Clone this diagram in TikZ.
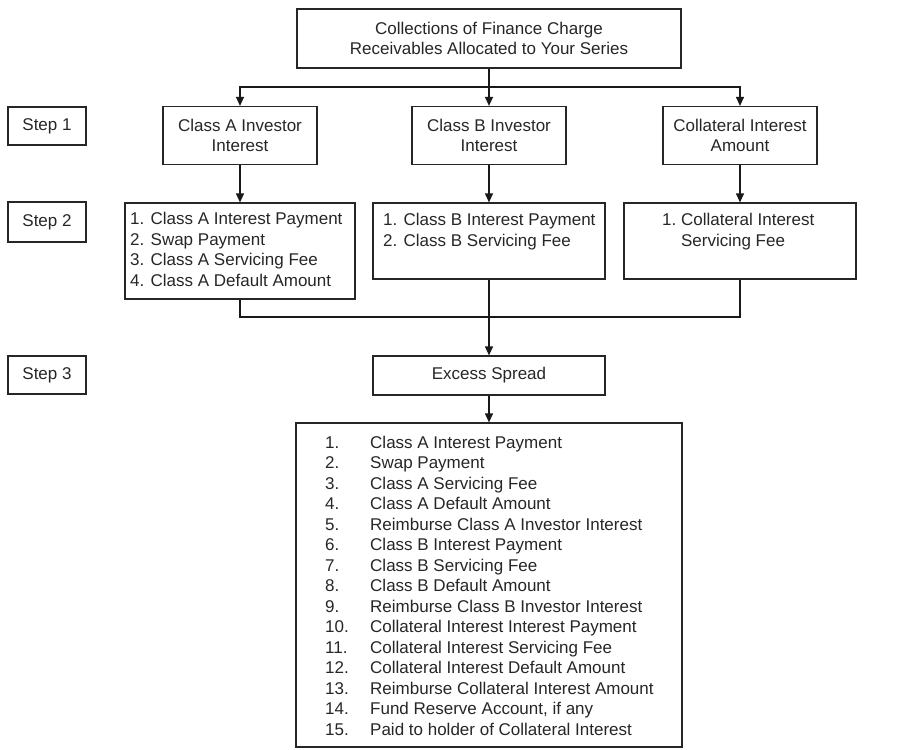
\documentclass[tikz,border=0pt]{standalone}
\usepackage{fontspec}
\setmainfont{Liberation Sans}
\usetikzlibrary{arrows.meta}
\begin{document}
\begin{tikzpicture}[x=1bp,y=-1bp,
  every node/.style={font=\fontsize{17bp}{20.5bp}\selectfont, text=black!85},
  box/.style={draw=black!85, line width=1.2bp, inner sep=0pt},
  txt/.style={anchor=north west, inner sep=0pt},
  line/.style={draw=black!90, line width=1.2bp},
  arr/.style={line, -{Triangle[length=9bp,width=8bp]}}
]
\useasboundingbox (0,0) rectangle (923,750);

% source of funds
\node[box, minimum width=384bp, minimum height=59bp, align=center] (top) at (489,38.5)
  {Collections of Finance Charge\\Receivables Allocated to Your Series};

% step labels
\node[box, minimum width=78bp, minimum height=38bp] (s1) at (47,126) {Step 1};
\node[box, minimum width=78bp, minimum height=40bp] (s2) at (47,222) {Step 2};
\node[box, minimum width=78bp, minimum height=38bp] (s3) at (47,375) {Step 3};

% step 1: allocation
\node[box, minimum width=154bp, minimum height=58bp, align=center] (a1) at (240,135.5) {Class A Investor\\Interest};
\node[box, minimum width=154bp, minimum height=58bp, align=center] (b1) at (489,135.5) {Class B Investor\\Interest};
\node[box, minimum width=154bp, minimum height=58bp, align=center] (c1) at (740,135.5) {Collateral Interest\\Amount};

% step 2: payments per class
\node[box, minimum width=230bp, minimum height=96bp] (a2) at (240,251) {};
\node[txt] (a2t) at (130,210) {\begin{tabular}{@{}l@{}}1. Class A Interest Payment\\2. Swap Payment\\3. Class A Servicing Fee\\4. Class A Default Amount\end{tabular}};

\node[box, minimum width=232bp, minimum height=76bp] (b2) at (489,241) {};
\node[txt] (b2t) at (383,211) {\begin{tabular}{@{}l@{}}1. Class B Interest Payment\\2. Class B Servicing Fee\end{tabular}};

\node[box, minimum width=232bp, minimum height=76bp] (c2) at (740,241) {};
\node[txt] (c2t) at (662,211) {\begin{tabular}{@{}l@{\ }l@{}}1. & Collateral Interest\\ & Servicing Fee\end{tabular}};

% step 3: excess spread
\node[box, minimum width=232bp, minimum height=39bp] (ex) at (489,375.5) {Excess Spread};

\node[box, minimum width=386bp, minimum height=324bp] (list) at (489,585) {};
\node[txt] (listt) at (325,433.6) {\begin{tabular}{@{}p{45bp}@{}l@{}}
1. & Class A Interest Payment\\
2. & Swap Payment\\
3. & Class A Servicing Fee\\
4. & Class A Default Amount\\
5. & Reimburse Class A Investor Interest\\
6. & Class B Interest Payment\\
7. & Class B Servicing Fee\\
8. & Class B Default Amount\\
9. & Reimburse Class B Investor Interest\\
10. & Collateral Interest Interest Payment\\
11. & Collateral Interest Servicing Fee\\
12. & Collateral Interest Default Amount\\
13. & Reimburse Collateral Interest Amount\\
14. & Fund Reserve Account, if any\\
15. & Paid to holder of Collateral Interest
\end{tabular}};

% connectors
\coordinate (bus) at (489,87);
\coordinate (mrg) at (489,317);
\draw[line] (top) -- (bus);
\draw[arr] (bus) -| (a1);
\draw[arr] (bus) -- (b1);
\draw[arr] (bus) -| (c1);
\draw[arr] (a1) -- (a2);
\draw[arr] (b1) -- (b2);
\draw[arr] (c1) -- (c2);
\draw[line] (a2) |- (mrg);
\draw[line] (c2) |- (mrg);
\draw[line] (b2) -- (mrg);
\draw[arr] (mrg) -- (ex);
\draw[arr] (ex) -- (list);
\end{tikzpicture}
\end{document}
